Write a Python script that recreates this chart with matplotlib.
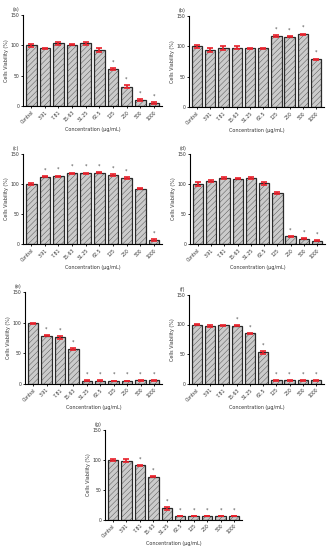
import numpy as np
import matplotlib.pyplot as plt

# concentraciones (ug/mL)
conc = ['Control', '3.91', '7.81', '15.63', '31.25', '62.5', '125', '250', '500', '1000']

via_a = [100, 95, 103, 101, 103, 92, 61, 32, 10, 5]
err_a = [2, 1, 2, 1, 2, 3, 2, 2, 2, 1]
sig_a = [0, 0, 0, 0, 0, 0, 1, 1, 1, 1]

via_b = [100, 94, 97, 98, 97, 97, 117, 116, 120, 79]
err_b = [2, 3, 3, 2, 1, 1, 1, 1, 1, 1]
sig_b = [0, 0, 0, 0, 0, 0, 1, 1, 1, 1]

via_c = [100, 112, 113, 118, 118, 119, 115, 110, 92, 7]
err_c = [2, 1, 1, 1, 1, 1, 2, 1, 1, 1]
sig_c = [0, 1, 1, 1, 1, 1, 1, 1, 0, 1]

via_d = [100, 105, 110, 109, 110, 101, 85, 13, 9, 6]
err_d = [3, 1, 2, 1, 1, 2, 1, 1, 1, 1]
sig_d = [0, 0, 0, 0, 0, 0, 0, 1, 1, 1]

via_e = [99, 79, 76, 57, 5, 5, 5, 5, 6, 6]
err_e = [1, 1, 2, 2, 1, 1, 0.5, 0.5, 0.5, 0.5]
sig_e = [0, 1, 1, 1, 1, 1, 1, 1, 1, 1]

via_f = [100, 97, 99, 98, 85, 53, 6, 6, 6, 6]
err_f = [1, 2, 1, 1, 1, 3, 1, 1, 0.5, 1]
sig_f = [0, 0, 0, 1, 1, 1, 1, 1, 1, 1]

via_g = [100, 99, 91, 72, 19, 6, 6, 6, 6, 6]
err_g = [1, 2, 1, 1, 2, 0.5, 0.5, 0.5, 0.5, 0.5]
sig_g = [0, 0, 1, 1, 1, 1, 1, 1, 1, 1]

paneles = [
    ('(a)', via_a, err_a, sig_a, [0.069, 0.807, 0.416, 0.166]),
    ('(b)', via_b, err_b, sig_b, [0.566, 0.805, 0.404, 0.166]),
    ('(c)', via_c, err_c, sig_c, [0.069, 0.556, 0.416, 0.164]),
    ('(d)', via_d, err_d, sig_d, [0.569, 0.556, 0.404, 0.164]),
    ('(e)', via_e, err_e, sig_e, [0.075, 0.302, 0.410, 0.167]),
    ('(f)', via_f, err_f, sig_f, [0.566, 0.302, 0.404, 0.162]),
    ('(g)', via_g, err_g, sig_g, [0.314, 0.055, 0.411, 0.163]),
]

plt.rcParams['hatch.linewidth'] = 0.25
plt.rcParams['hatch.color'] = '#9a9a9a'
plt.rcParams['font.family'] = 'DejaVu Sans'

fig = plt.figure(figsize=(3.34, 5.5), dpi=100)

for letra, vals, errs, sig, pos in paneles:
    ax = fig.add_axes(pos)
    x = np.arange(len(conc))
    ax.bar(x, vals, width=0.78, color='#cbcbcb', edgecolor='#2a2a2a',
           linewidth=0.9, hatch='//////')
    ax.errorbar(x, vals, yerr=errs, fmt='none', ecolor='#e8202a',
                elinewidth=1.2, capsize=2, capthick=1.2)
    for xi, v, e, s in zip(x, vals, errs, sig):
        if s:
            ax.text(xi, v + e + 6, '*', ha='center', va='bottom',
                    fontsize=3.5, color='#444444')
    ax.set_xlim(-0.6, 9.6)
    ax.set_ylim(0, 150)
    ax.set_yticks([0, 50, 100, 150])
    ax.set_xticks(x)
    ax.set_xticklabels(conc, rotation=45, ha='right', rotation_mode='anchor')
    ax.tick_params(labelsize=3.3, length=1.5, width=0.6, pad=1,
                   labelcolor='#333333')
    for lado in ['top', 'right']:
        ax.spines[lado].set_visible(False)
    for lado in ['left', 'bottom']:
        ax.spines[lado].set_linewidth(0.8)
    ax.set_ylabel('Cells Viability (%)', fontsize=3.5, labelpad=1.5, color='#333333')
    ax.set_xlabel('Concentration (μg/mL)', fontsize=3.5, labelpad=1.5, color='#333333')
    ax.text(-0.05, 1.03, letra, transform=ax.transAxes, fontsize=3.5,
            ha='center', va='bottom', color='#333333')

plt.savefig('out.png', dpi=100)
